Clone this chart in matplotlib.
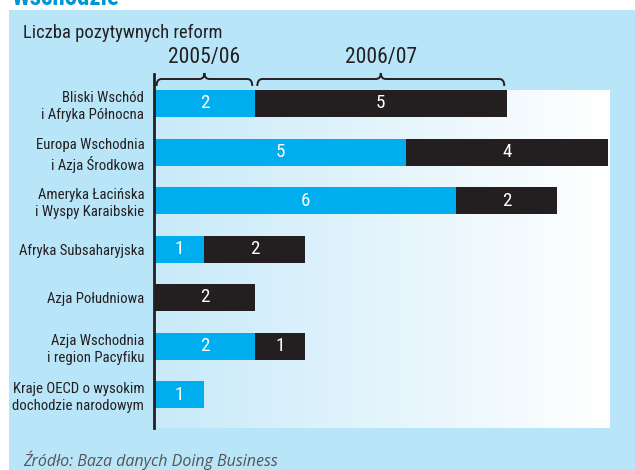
import numpy as np
import matplotlib.pyplot as plt
from matplotlib import font_manager
from matplotlib.patches import Rectangle, PathPatch
from matplotlib.path import Path
from matplotlib.colors import LinearSegmentedColormap

# data
regions = ['Bliski Wschód\ni Afryka Północna',
           'Europa Wschodnia\ni Azja Środkowa',
           'Ameryka Łacińska\ni Wyspy Karaibskie',
           'Afryka Subsaharyjska',
           'Azja Południowa',
           'Azja Wschodnia\ni region Pacyfiku',
           'Kraje OECD o wysokim\ndochodzie narodowym']
reforms_0506 = [2, 5, 6, 1, 0, 2, 1]
reforms_0607 = [5, 4, 2, 2, 2, 1, 0]
periods = ['2005/06', '2006/07']

BLUE = '#00aeef'
BLACK = '#231f20'
PANEL = '#b9e5f9'

installed = {f.name for f in font_manager.fontManager.ttflist}
narrow = 'DejaVu Sans'
for cand in ['Liberation Sans Narrow', 'Roboto Condensed', 'Open Sans Condensed',
             'DejaVu Sans Condensed', 'Noto Sans Condensed', 'Roboto', 'Lato']:
    if cand in installed:
        narrow = cand
        break
fam = [narrow, 'DejaVu Sans']
plt.rcParams['font.family'] = fam

W, H = 635, 470
fig = plt.figure(figsize=(W / 100, H / 100), dpi=100)
fig.patch.set_facecolor('white')
renderer = fig.canvas.get_renderer()


def px(x, y):
    # pixel (from top-left) -> figure fraction
    return x / W, 1 - y / H


def fit_size(s, target, **kw):
    # font size at which the text s is target pixels wide
    t = fig.text(0, 0, s, fontsize=10, **kw)
    w = t.get_window_extent(renderer).width
    t.remove()
    return 10 * target / w


# light blue box behind everything
fig.patches.append(Rectangle(px(9, 470), (W - 9) / W, 460 / H,
                             transform=fig.transFigure, facecolor=PANEL,
                             edgecolor='none', zorder=-10))
# cut-off heading at the very top
fig.text(*px(11, 5), 'Wschodzie', color='#0096d6',
         fontsize=fit_size('Wschodzie', 108, fontweight='bold'),
         fontweight='bold', va='baseline', ha='left')

title = 'Liczba pozytywnych reform'
fig.text(*px(23, 33), title, fontsize=fit_size(title, 177) * 1.12,
         color=BLACK, va='center', ha='left')
source = 'Źródło: Baza danych Doing Business'
src_kw = dict(style='italic', family=['Open Sans', 'DejaVu Sans'])
fig.text(*px(23, 460), source, fontsize=fit_size(source, 255, **src_kw),
         color='#555555', va='center', ha='left', **src_kw)

# axes: left 154px, right 610px, top 90px, bottom 428px
unit = 50.4
xmax = (610 - 154) / unit
row = 48.5
ytop = -13.5 / row
ybot = (428 - 103.5) / row
ax = fig.add_axes([154 / W, 1 - 428 / H, (610 - 154) / W, (428 - 90) / H])
ax.set_xlim(0, xmax)
ax.set_ylim(ybot, ytop)
ax.set_facecolor('none')

# gradient panel
grad = np.linspace(0, 1, 256)[None, :]
cmap = LinearSegmentedColormap.from_list('g', ['#c8eaf9', '#ffffff'])
ax.imshow(grad, cmap=cmap, aspect='auto', extent=[0, xmax, ybot, ytop],
          zorder=0)

y = np.arange(len(regions))
h = 27 / row
a = np.array(reforms_0506)
b = np.array(reforms_0607)
ax.barh(y, a, height=h, color=BLUE, zorder=2)
ax.barh(y, b, left=a, height=h, color=BLACK, zorder=2)

cat_size = fit_size('dochodzie narodowym', 128) * 1.02
num_size = cat_size * 1.3
for i in range(len(regions)):
    if a[i] > 0:
        ax.text(a[i] / 2, y[i], str(a[i]), color='white', fontsize=num_size,
                ha='center', va='center', zorder=3)
    if b[i] > 0:
        ax.text(a[i] + b[i] / 2, y[i], str(b[i]), color='white', fontsize=num_size,
                ha='center', va='center', zorder=3)

ax.set_yticks(y)
ax.set_yticklabels(regions, fontsize=cat_size, color=BLACK, linespacing=1.3)
ax.tick_params(axis='y', length=0, pad=7)
ax.set_xticks([])
for s in ['top', 'right', 'bottom']:
    ax.spines[s].set_visible(False)
ax.spines['left'].set_color(BLACK)
ax.spines['left'].set_linewidth(2)
ax.spines['left'].set_bounds(ybot, -29.5 / row)


def brace(ax, x0, x1, yl, ytip, ypeak, r=0.1):
    xm = (x0 + x1) / 2
    verts = [(x0, ytip), (x0, yl), (x0 + r, yl),
             (xm - r, yl),
             (xm, yl), (xm, ypeak),
             (xm, yl), (xm + r, yl),
             (x1 - r, yl),
             (x1, yl), (x1, ytip)]
    codes = [Path.MOVETO, Path.CURVE3, Path.CURVE3,
             Path.LINETO,
             Path.CURVE3, Path.CURVE3,
             Path.CURVE3, Path.CURVE3,
             Path.LINETO,
             Path.CURVE3, Path.CURVE3]
    ax.add_patch(PathPatch(Path(verts, codes), fill=False, edgecolor=BLACK,
                           lw=1.4, clip_on=False, zorder=4))


yl = (79 - 103.5) / row
ytip = (86 - 103.5) / row
ypeak = (73 - 103.5) / row
ylab = (57 - 103.5) / row
yr_size = fit_size('2005/06', 71)
spans = [(0, a[0]), (a[0], a[0] + b[0])]
for (s0, s1), lab in zip(spans, periods):
    brace(ax, s0 + 0.05, s1 - 0.05, yl, ytip, ypeak)
    ax.text((s0 + s1) / 2, ylab, lab, fontsize=yr_size, color=BLACK,
            ha='center', va='center', clip_on=False)

fig.savefig('out.png', dpi=100)
